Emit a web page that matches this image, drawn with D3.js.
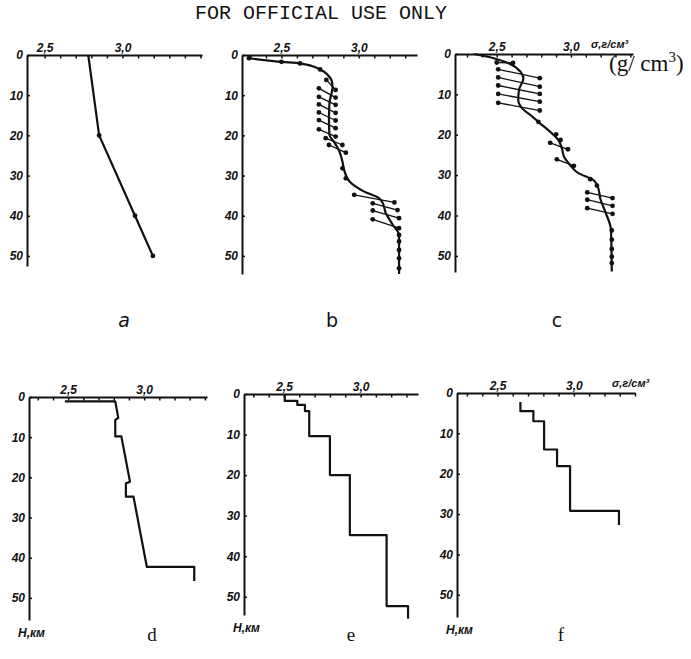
<!DOCTYPE html>
<html>
<head>
<meta charset="utf-8">
<script src="https://cdn.jsdelivr.net/npm/d3@7"></script>
<style>
body { margin: 0; background: #fff; }
svg { display: block; }
</style>
</head>
<body>
<svg id="fig" width="691" height="659"></svg>
<script>
// depth H in km, density in g/cm3
const depthTicks = [0, 10, 20, 30, 40, 50]
const densLabels = [2.5, 3.0]
const panelNames = ['a', 'b', 'c', 'd', 'e', 'f']

// a: straight segments
const aDepth = [0, 20, 40, 50]
const aDens = [2.78, 2.85, 3.08, 3.195]

// b: smoothed curve, single dots, bars (left dot -> right dot)
const bCurveDepth = [0.8, 1.7, 2.1, 3.6, 5.0, 6.5, 8.0, 12.0, 16.2, 19.9, 21.6, 23.6, 26.5, 28.6, 31.5, 34.0, 35.6, 36.5, 39.4, 42.3, 44.8, 54.5]
const bCurveDens = [2.29, 2.50, 2.62, 2.75, 2.80, 2.825, 2.83, 2.81, 2.807, 2.81, 2.84, 2.87, 2.894, 2.905, 2.94, 3.035, 3.13, 3.15, 3.175, 3.22, 3.26, 3.26]
const bDotDepth = [0.8, 1.7, 2.1, 3.6, 28.2, 30.7, 44.8, 46.4, 48.5, 50.6, 53.1]
const bDotDens = [2.29, 2.50, 2.62, 2.75, 2.894, 2.916, 3.26, 3.26, 3.26, 3.26, 3.26]
const bBarLeftDepth = [6.2, 8.3, 10.4, 12.3, 14.3, 16.2, 18.5, 20.7, 22.4, 34.8, 36.9, 38.7, 40.9]
const bBarLeftDens = [2.79, 2.742, 2.742, 2.742, 2.742, 2.742, 2.742, 2.786, 2.807, 2.97, 3.09, 3.09, 3.09]
const bBarRightDepth = [8.7, 10.6, 12.4, 14.4, 16.3, 18.2, 20.3, 22.4, 24.3, 36.7, 38.6, 40.6, 43.1]
const bBarRightDens = [2.85, 2.85, 2.85, 2.85, 2.85, 2.85, 2.85, 2.894, 2.916, 3.23, 3.25, 3.26, 3.26]

// c
const cCurveDepth = [0, 1.1, 2.3, 4.4, 6.0, 8.9, 11.4, 13.4, 15.5, 16.8, 19.6, 21.3, 23.5, 25.6, 27.3, 29.5, 31.2, 32.8, 36.1, 39.4, 43.6, 53.9]
const cCurveDens = [2.35, 2.485, 2.58, 2.66, 2.68, 2.65, 2.645, 2.67, 2.74, 2.78, 2.87, 2.915, 2.94, 2.955, 2.99, 3.05, 3.15, 3.18, 3.20, 3.235, 3.27, 3.275]
const cDotDepth = [16.8, 19.9, 21.3, 31.0, 32.6, 43.7, 46.0, 48.3, 50.2, 51.8]
const cDotDens = [2.78, 2.90, 2.93, 3.13, 3.175, 3.275, 3.275, 3.275, 3.275, 3.275]
const cBarLeftDepth = [2.1, 3.8, 5.8, 7.8, 9.9, 12.1, 22.0, 26.1, 34.3, 36.1, 38.2]
const cBarLeftDens = [2.50, 2.51, 2.51, 2.51, 2.51, 2.51, 2.86, 2.905, 3.11, 3.11, 3.11]
const cBarRightDepth = [2.2, 6.0, 8.1, 9.9, 11.8, 14.0, 23.6, 27.7, 35.7, 37.6, 39.6]
const cBarRightDens = [2.61, 2.79, 2.79, 2.79, 2.79, 2.79, 2.98, 3.02, 3.28, 3.28, 3.28]

// d: broken line
const dDepth = [1.1, 1.1, 5.2, 5.7, 9.8, 9.8, 21.1, 21.5, 24.8, 24.8, 42.3, 42.3, 45.8]
const dDens = [2.478, 2.81, 2.83, 2.81, 2.81, 2.85, 2.907, 2.88, 2.88, 2.93, 3.018, 3.33, 3.33]

// e, f: layered models (top of layer, density), plus bottom depth
const eTop = [0, 1.7, 2.7, 4.2, 10.4, 20.0, 34.8, 52.3]
const eDens = [2.505, 2.587, 2.637, 2.665, 2.80, 2.93, 3.17, 3.31]
const eBottom = 55.4
const fTop = [2.2, 4.5, 7.0, 14.0, 18.1, 29.2]
const fDens = [2.65, 2.735, 2.805, 2.89, 2.975, 3.295]
const fBottom = 32.7

const ink = '#111'
const svg = d3.select('#fig')

// frame of each panel in pixels, density range of its axis, depth at axis end
const frames = {
    a: {x0: 27, x1: 202, y0: 55, y1: 266, d0: 2.387, d1: 3.51, h1: 52.5, lx: 124, ly: 327},
    b: {x0: 242, x1: 417, y0: 55, y1: 274, d0: 2.245, d1: 3.376, h1: 54.5, lx: 332, ly: 327},
    c: {x0: 455, x1: 633, y0: 54, y1: 272, d0: 2.219, d1: 3.418, h1: 54, lx: 557, ly: 327},
    d: {x0: 29, x1: 207, y0: 397, y1: 620, d0: 2.242, d1: 3.414, h1: 55.5, lx: 152, ly: 641},
    e: {x0: 244, x1: 418, y0: 394, y1: 615, d0: 2.239, d1: 3.375, h1: 54.5, lx: 351, ly: 641},
    f: {x0: 457, x1: 635, y0: 393, y1: 617, d0: 2.235, d1: 3.40, h1: 55.5, lx: 561, ly: 641}
}

let stepVertices = (tops, dens, bottom) => {
    let pts = []
    for(let i = 0; i < tops.length; i++){
        let next = i < tops.length-1 ? tops[i+1] : bottom
        pts.push({x: dens[i], y: tops[i]})
        pts.push({x: dens[i], y: next})
    }
    return pts
}

let zipPts = (dens, depth) => dens.map((v, i) => ({x: v, y: depth[i]}))

let drawPanel = (name) => {
    let f = frames[name]
    let x = d3.scaleLinear().domain([f.d0, f.d1]).range([f.x0, f.x1])
    let y = d3.scaleLinear().domain([0, f.h1]).range([f.y0, f.y1])
    let g = svg.append('g').attr('class', 'panel-' + name)

    let xt = d3.range(Math.ceil(f.d0*10), Math.floor(f.d1*10)+1).map(v => v/10).filter(v => v - f.d0 > 0.05)
    let xAxis = d3.axisTop(x).tickValues(xt).tickSize(-3.5).tickSizeOuter(0).tickPadding(3)
        .tickFormat(v => densLabels.some(l => Math.abs(l-v) < 1e-6) ? d3.format('.1f')(v).replace('.', ',') : '')
    let yAxis = d3.axisLeft(y).tickValues(depthTicks).tickSize(-3).tickSizeOuter(0).tickPadding(4)

    let gx = g.append('g').attr('transform', 'translate(0,' + f.y0 + ')').call(xAxis)
    let gy = g.append('g').attr('transform', 'translate(' + f.x0 + ',0)').call(yAxis)
    ;[gx, gy].forEach(ax => {
        ax.attr('font-family', null).attr('font-size', null)
        ax.select('.domain').attr('stroke', ink).attr('stroke-width', 2)
        ax.selectAll('.tick line').attr('stroke', ink).attr('stroke-width', 1.5)
        ax.selectAll('.tick text').attr('fill', ink)
            .style('font', 'italic bold 12px "Liberation Sans", sans-serif')
    })

    let line = d3.line().x(d => x(d.x)).y(d => y(d.y))
    let smooth = d3.line().x(d => x(d.x)).y(d => y(d.y)).curve(d3.curveMonotoneY)

    let addPath = (pts, gen, w) => g.append('path').datum(pts).attr('d', gen)
        .attr('fill', 'none').attr('stroke', ink).attr('stroke-width', w).attr('stroke-linejoin', 'round')
    let addDots = (pts) => g.append('g').selectAll('circle').data(pts).enter().append('circle')
        .attr('cx', d => x(d.x)).attr('cy', d => y(d.y)).attr('r', 2.4).attr('fill', ink)
    let addBars = (lDens, lDepth, rDens, rDepth) => {
        let bars = lDens.map((v, i) => [{x: v, y: lDepth[i]}, {x: rDens[i], y: rDepth[i]}])
        bars.forEach(b => addPath(b, line, 1.3))
        addDots(bars.flat())
    }

    if(name == 'a'){
        addPath(zipPts(aDens, aDepth), line, 2.2)
        addDots(zipPts(aDens, aDepth).slice(1))
    }
    if(name == 'b'){
        addBars(bBarLeftDens, bBarLeftDepth, bBarRightDens, bBarRightDepth)
        addPath(zipPts(bCurveDens, bCurveDepth), smooth, 2.2)
        addDots(zipPts(bDotDens, bDotDepth))
    }
    if(name == 'c'){
        addBars(cBarLeftDens, cBarLeftDepth, cBarRightDens, cBarRightDepth)
        addPath(zipPts(cCurveDens, cCurveDepth), smooth, 2.2)
        addDots(zipPts(cDotDens, cDotDepth))
    }
    if(name == 'd') addPath(zipPts(dDens, dDepth), line, 2.2)
    if(name == 'e') addPath(stepVertices(eTop, eDens, eBottom), line, 2.2)
    if(name == 'f') addPath(stepVertices(fTop, fDens, fBottom), line, 2.2)

    // panel letter
    let serif = (name == 'd' || name == 'e' || name == 'f')
    svg.append('text').attr('x', f.lx).attr('y', f.ly).attr('text-anchor', 'middle').attr('fill', ink)
        .style('font', (name == 'a' ? 'italic ' : '') + '19px ' + (serif ? '"Liberation Serif", serif' : '"DejaVu Sans", sans-serif'))
        .text(name)

    if(serif){
        svg.append('text').attr('x', f.x0 - 11).attr('y', f.y1 + 17).attr('fill', ink)
            .style('font', 'italic bold 12px "Liberation Sans", sans-serif').text('H,км')
    }
    return {x, y}
}

panelNames.forEach(drawPanel)

// unit labels
svg.append('text').attr('x', 591).attr('y', 48).attr('fill', ink)
    .style('font', 'italic bold 11px "Liberation Sans", sans-serif').text('σ,г/см³')
svg.append('text').attr('x', 612).attr('y', 387).attr('fill', ink)
    .style('font', 'italic bold 11px "Liberation Sans", sans-serif').text('σ,г/см³')

let gcm = svg.append('text').attr('x', 609).attr('y', 71).attr('fill', ink)
    .style('font', '23px "Liberation Serif", serif')
gcm.append('tspan').text('(g/ cm')
gcm.append('tspan').attr('dy', -9).style('font-size', '15px').text('3')
gcm.append('tspan').attr('dy', 9).text(')')

svg.append('text').attr('x', 321).attr('y', 19).attr('text-anchor', 'middle').attr('fill', ink)
    .style('font', '20px "Liberation Mono", monospace').text('FOR OFFICIAL USE ONLY')
</script>
</body>
</html>
